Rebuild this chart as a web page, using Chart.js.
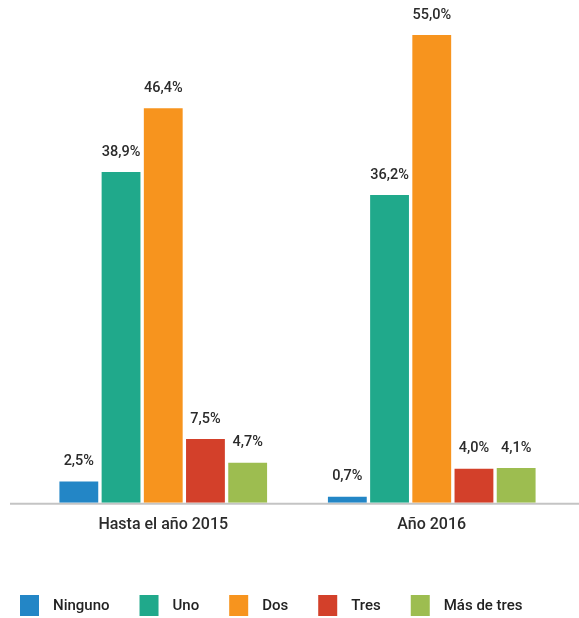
<!DOCTYPE html>
<html>
<head>
<meta charset="utf-8">
<script src="https://cdn.jsdelivr.net/npm/chart.js@4"></script>
<style>
  html, body { margin: 0; padding: 0; background: #ffffff; }
  #wrap { width: 579px; height: 618px; }
</style>
</head>
<body>
<div id="wrap"><canvas id="chart"></canvas></div>
<script>
// categories and series
const periods = ['Hasta el año 2015', 'Año 2016']
const seriesNames = ['Ninguno', 'Uno', 'Dos', 'Tres', 'Más de tres']
const ninguno = [2.5, 0.7]
const uno = [38.9, 36.2]
const dos = [46.4, 55.0]
const tres = [7.5, 4.0]
const masDeTres = [4.7, 4.1]

const colors = ['#2386c6', '#20a98b', '#f7941e', '#d3402a', '#9dbd50']

Chart.defaults.font.family = 'Roboto'
Chart.defaults.color = '#2b2b2b'

// percent labels above each bar, spanish decimal comma
const barLabels = {
    id: 'barLabels',
    afterDatasetsDraw(chart) {
        const ctx = chart.ctx
        ctx.save()
        ctx.font = '500 14.5px Roboto'
        ctx.fillStyle = '#2b2b2b'
        ctx.textAlign = 'center'
        ctx.textBaseline = 'middle'
        chart.data.datasets.forEach((ds, i) => {
            chart.getDatasetMeta(i).data.forEach((bar, j) => {
                const txt = ds.data[j].toFixed(1).replace('.', ',') + '%'
                ctx.fillText(txt, bar.x, bar.y - 20)
            })
        })
        ctx.restore()
    }
}

// grey baseline running across almost the whole width
const baseline = {
    id: 'baseline',
    beforeDatasetsDraw(chart) {
        const ctx = chart.ctx
        const y = chart.scales.y.getPixelForValue(0)
        ctx.save()
        ctx.strokeStyle = '#c4c4c4'
        ctx.lineWidth = 2
        ctx.beginPath()
        ctx.moveTo(10, y + 1)
        ctx.lineTo(chart.width, y + 1)
        ctx.stroke()
        ctx.restore()
    }
}

// legend drawn by hand: wider gap between swatch and text than the built-in one
const bottomLegend = {
    id: 'bottomLegend',
    afterDraw(chart) {
        const ctx = chart.ctx
        const boxW = 19, boxH = 21, textGap = 14, itemGap = 30
        ctx.save()
        ctx.font = '500 15px Roboto'
        ctx.textBaseline = 'middle'
        ctx.textAlign = 'left'
        let x = 20
        const y = chart.height - 12.5
        chart.data.datasets.forEach(ds => {
            ctx.fillStyle = ds.backgroundColor
            ctx.fillRect(x, y - boxH / 2, boxW, boxH)
            ctx.fillStyle = '#222222'
            ctx.fillText(ds.label, x + boxW + textGap, y + 1)
            x += boxW + textGap + ctx.measureText(ds.label).width + itemGap
        })
        ctx.restore()
    }
}

const seriesData = [ninguno, uno, dos, tres, masDeTres]

new Chart(document.getElementById('chart'), {
    type: 'bar',
    data: {
        labels: periods,
        datasets: seriesNames.map((name, i) => ({
            label: name,
            data: seriesData[i],
            backgroundColor: colors[i],
            barPercentage: 0.92,
            categoryPercentage: 0.786
        }))
    },
    options: {
        responsive: true,
        maintainAspectRatio: false,
        animation: false,
        layout: {
            padding: { top: 35, left: 29, right: 13, bottom: 78 }
        },
        plugins: {
            tooltip: { enabled: false },
            legend: { display: false }
        },
        scales: {
            x: {
                grid: { display: false },
                border: { display: false },
                ticks: {
                    padding: 5,
                    color: '#2b2b2b',
                    font: { size: 16, weight: '500' }
                }
            },
            y: {
                display: false,
                min: 0,
                max: 55
            }
        }
    },
    plugins: [baseline, barLabels, bottomLegend]
})
</script>
</body>
</html>
